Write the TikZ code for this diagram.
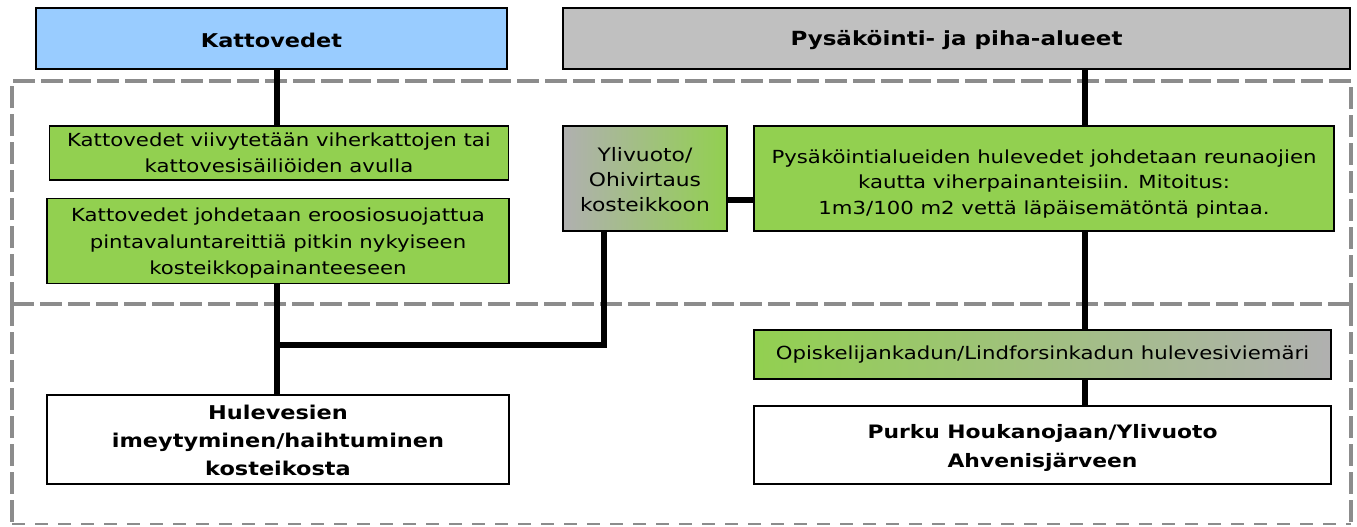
\documentclass[tikz,border=0pt]{standalone}
\usepackage{fontspec}
\setmainfont[FakeStretch=1.18]{DejaVu Sans}
\definecolor{grn}{HTML}{92D050}
\definecolor{lblue}{HTML}{99CCFF}
\definecolor{gry}{HTML}{C0C0C0}
\definecolor{gry2}{HTML}{B0B0B0}
\definecolor{dashgray}{HTML}{8C8C8C}
\newcommand{\dn}[1]{\rule{0pt}{#1}}
\tikzset{
  box/.style={draw=black, line width=1.6pt, inner sep=0pt, align=center, font=\fontsize{18}{25.5}\selectfont},
  titlebox/.style={box, font=\fontsize{19}{28}\selectfont\bfseries},
  conn/.style={line width=6pt, black},
  zone/.style={draw=dashgray, line width=3.5pt, dash pattern=on 22pt off 6pt},
  zonethin/.style={draw=dashgray, line width=2.2pt, dash pattern=on 13pt off 10pt},
}
\begin{document}
\begin{tikzpicture}[x=1pt,y=-1pt]
\useasboundingbox[fill=white] (0,0) rectangle (1357,527);
% dashed zones
\draw[zone] (12,304) -- (12,81) -- (1351,81) -- (1351,304);
\draw[zone] (12,304) -- (1351,304);
\draw[zone] (12,304) -- (12,524);
\draw[zone] (1351,304) -- (1351,524);
\draw[zonethin] (12,524) -- (1351,524);
% nodes
\node[titlebox, fill=lblue, minimum width=471pt, minimum height=61pt] (katto) at (271.5,38.5) {\dn{18pt}Kattovedet};
\node[titlebox, fill=gry, minimum width=787pt, minimum height=61pt, font=\fontsize{19.5}{27.5}\selectfont\bfseries] (pysa) at (956.5,38.5) {\dn{18pt}Pysäköinti- ja piha-alueet};
\node[box, fill=grn, minimum width=459pt, minimum height=54pt] (b1) at (279,153) {Kattovedet viivytetään viherkattojen tai\\kattovesisäiliöiden avulla};
\node[box, fill=grn, minimum width=462pt, minimum height=85pt, font=\fontsize{18}{26.5}\selectfont] (b2) at (278,241) {\dn{18pt}Kattovedet johdetaan eroosiosuojattua\\pintavaluntareittiä pitkin nykyiseen\\kosteikkopainanteeseen};
\node[box, left color=gry2, right color=grn, minimum width=164pt, minimum height=105pt, font=\fontsize{18.5}{25}\selectfont] (yli) at (645,178.5) {\dn{16pt}Ylivuoto/\\Ohivirtaus\\kosteikkoon};
\node[box, fill=grn, minimum width=580pt, minimum height=105pt, font=\fontsize{18}{25.5}\selectfont] (pr) at (1044,178.5) {\dn{24pt}Pysäköintialueiden hulevedet johdetaan reunaojien\\kautta viherpainanteisiin. Mitoitus:\\1m3/100 m2 vettä läpäisemätöntä pintaa.};
\node[box, left color=grn, right color=gry2, minimum width=577pt, minimum height=49pt] (opis) at (1042.5,354.5) {Opiskelijankadun/Lindforsinkadun hulevesiviemäri};
\node[titlebox, fill=white, minimum width=462pt, minimum height=89pt] (hule) at (278,439.5) {\dn{17pt}Hulevesien\\imeytyminen/haihtuminen\\kosteikosta};
\node[titlebox, fill=white, minimum width=577pt, minimum height=78pt, font=\fontsize{18.5}{29}\selectfont\bfseries] (purku) at (1042.5,445) {\dn{20pt}Purku Houkanojaan/Ylivuoto\\Ahvenisjärveen};
% helper coordinates
\coordinate (lx) at (277,0);
\coordinate (rx) at (1085,0);
\coordinate (yx) at (604,0);
\coordinate (jn) at (277,345);
\coordinate (jc) at (604,345);
% connectors
\draw[conn] (katto.south -| lx) -- (b1.north -| lx);
\draw[conn] (b2.south -| lx) -- (hule.north -| lx);
\draw[conn] (jn) -- (jc) -- (yli.south -| yx);
\draw[conn] (yli.east |- 0,200) -- (pr.west |- 0,200);
\draw[conn] (pysa.south -| rx) -- (pr.north -| rx);
\draw[conn] (pr.south -| rx) -- (opis.north -| rx);
\draw[conn] (opis.south -| rx) -- (purku.north -| rx);
\end{tikzpicture}
\end{document}
